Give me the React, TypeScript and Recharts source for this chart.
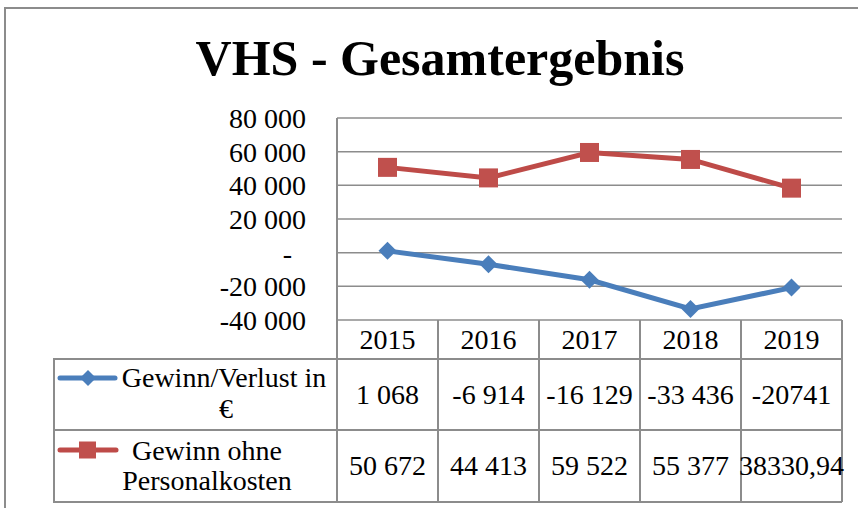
import { LineChart, Line, XAxis, YAxis, CartesianGrid } from 'recharts'

const YEARS = ['2015', '2016', '2017', '2018', '2019']
const GEWINN_VERLUST = [1068, -6914, -16129, -33436, -20741]
const OHNE_PERSONAL = [50672, 44413, 59522, 55377, 38330.94]
// table text exactly as printed in the source sheet
const GEWINN_VERLUST_TEXT = ['1 068', '-6 914', '-16 129', '-33 436', '-20741']
const OHNE_PERSONAL_TEXT = ['50 672', '44 413', '59 522', '55 377', '38330,94']
const Y_TICKS = [-40000, -20000, 0, 20000, 40000, 60000, 80000]

const BLUE = '#4A7EBB'
const RED = '#BE4B48'
const GRID = '#8C8C8C'
const FONT = '"Liberation Serif", "Times New Roman", serif'

const W = 858
const H = 508
const PLOT_LEFT = 337
const PLOT_RIGHT = 842
const PLOT_TOP = 118
const PLOT_BOTTOM = 320
const COL_W = (PLOT_RIGHT - PLOT_LEFT) / YEARS.length
const HEADER_BOTTOM = 359
const ROW1_BOTTOM = 430
const TABLE_BOTTOM = 502
const LEGEND_LEFT = 54

const data = YEARS.map((year, i) => ({
  year,
  verlust: GEWINN_VERLUST[i],
  ohne: OHNE_PERSONAL[i],
}))

function fmtTick(v: number) {
  if (v === 0) return '-\u00A0\u00A0'
  const s = Math.abs(v).toString().replace(/\B(?=(\d{3})+(?!\d))/g, ' ')
  return (v < 0 ? '-' : '') + s
}

function TableTick({ x, payload }: any) {
  const i = payload.index
  const left = x - COL_W / 2
  const right = x + COL_W / 2
  const line = { stroke: GRID, strokeWidth: 2 }
  return (
    <g fontFamily={FONT} fontSize={28}>
      {i === 0 && <line x1={left} y1={PLOT_BOTTOM} x2={left} y2={TABLE_BOTTOM} {...line} />}
      <line x1={right} y1={PLOT_BOTTOM} x2={right} y2={TABLE_BOTTOM} {...line} />
      <line x1={left} y1={HEADER_BOTTOM} x2={right} y2={HEADER_BOTTOM} {...line} />
      <line x1={left} y1={ROW1_BOTTOM} x2={right} y2={ROW1_BOTTOM} {...line} />
      <line x1={left} y1={TABLE_BOTTOM} x2={right} y2={TABLE_BOTTOM} {...line} />
      <text x={x} y={339} dy="0.35em" textAnchor="middle" fill="#000">{payload.value}</text>
      <text x={x} y={394} dy="0.35em" textAnchor="middle" fill="#000">{GEWINN_VERLUST_TEXT[i]}</text>
      <text x={x} y={465} dy="0.35em" textAnchor="middle" fill="#000">{OHNE_PERSONAL_TEXT[i]}</text>
    </g>
  )
}

const Diamond = ({ cx, cy, index }: any) => (
  <path
    key={`d-${index}`}
    d={`M${cx},${cy - 9} L${cx + 9},${cy} L${cx},${cy + 9} L${cx - 9},${cy} Z`}
    fill={BLUE}
  />
)

const Square = ({ cx, cy, index }: any) => (
  <rect key={`s-${index}`} x={cx - 9.5} y={cy - 9.5} width={19} height={19} fill="#C0504D" />
)

export default function App() {
  return (
    <div style={{ position: 'absolute', left: 0, top: 0, width: W, height: H, background: '#fff' }}>
      <LineChart
        width={W}
        height={H}
        data={data}
        margin={{ top: PLOT_TOP, right: W - PLOT_RIGHT, left: PLOT_LEFT - 100, bottom: 8 }}
      >
        <CartesianGrid vertical={false} stroke={GRID} strokeWidth={1.5} />
        <XAxis
          dataKey="year"
          padding={{ left: COL_W / 2, right: COL_W / 2 }}
          axisLine={false}
          tickLine={false}
          tickSize={0}
          tickMargin={0}
          interval={0}
          height={H - 8 - PLOT_BOTTOM}
          tick={(p: any) => <TableTick {...p} />}
        />
        <YAxis
          width={100}
          domain={[-40000, 80000]}
          ticks={Y_TICKS}
          interval={0}
          tickFormatter={fmtTick}
          tickLine={false}
          tickSize={0}
          tickMargin={31}
          axisLine={{ stroke: GRID, strokeWidth: 2 }}
          tick={{ fill: '#000', fontSize: 28, fontFamily: FONT }}
        />
        <Line
          type="linear"
          dataKey="verlust"
          stroke={BLUE}
          strokeWidth={5}
          dot={Diamond}
          activeDot={false}
          isAnimationActive={false}
        />
        <Line
          type="linear"
          dataKey="ohne"
          stroke={RED}
          strokeWidth={5}
          dot={Square}
          activeDot={false}
          isAnimationActive={false}
        />
      </LineChart>
      <svg
        width={W}
        height={H}
        style={{ position: 'absolute', left: 0, top: 0, pointerEvents: 'none' }}
        fontFamily={FONT}
      >
        <rect x={5} y={8} width={W + 10} height={H + 10} fill="none" stroke={GRID} strokeWidth={2} />
        <text x={440} y={75} textAnchor="middle" fontSize={50} fontWeight="bold" fill="#000">
          VHS - Gesamtergebnis
        </text>
        {/* legend column of the data table */}
        <rect
          x={LEGEND_LEFT}
          y={HEADER_BOTTOM}
          width={PLOT_LEFT - LEGEND_LEFT}
          height={TABLE_BOTTOM - HEADER_BOTTOM}
          fill="none"
          stroke={GRID}
          strokeWidth={2}
        />
        <line x1={LEGEND_LEFT} y1={ROW1_BOTTOM} x2={PLOT_LEFT} y2={ROW1_BOTTOM} stroke={GRID} strokeWidth={2} />
        <line x1={60} y1={378} x2={115} y2={378} stroke={BLUE} strokeWidth={5} strokeLinecap="round" />
        <path d="M88,370 L96,378 L88,386 L80,378 Z" fill={BLUE} />
        <line x1={60} y1={450} x2={116} y2={450} stroke={RED} strokeWidth={5} strokeLinecap="round" />
        <rect x={79} y={441.5} width={17} height={17} fill="#C0504D" />
        <g fontSize={28} fill="#000" textAnchor="middle">
          <text x={224} y={377} dy="0.35em">Gewinn/Verlust in</text>
          <text x={226} y={408} dy="0.35em">€</text>
          <text x={207} y={450} dy="0.35em">Gewinn ohne</text>
          <text x={207} y={480} dy="0.35em">Personalkosten</text>
        </g>
      </svg>
    </div>
  )
}
